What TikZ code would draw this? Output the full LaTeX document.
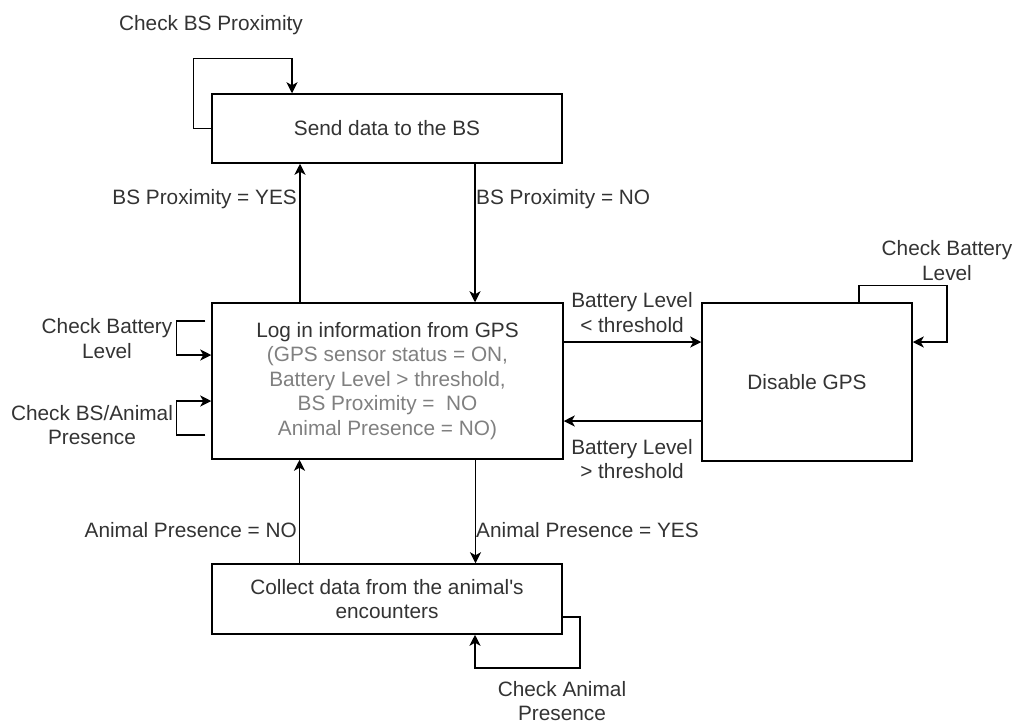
\documentclass[tikz,border=0pt]{standalone}
\usepackage{fontspec}
\setmainfont{Liberation Sans}
\usetikzlibrary{arrows.meta}
\definecolor{txt}{HTML}{333333}
\definecolor{subtxt}{HTML}{808080}
\begin{document}
\begin{tikzpicture}[x=1pt,y=-1pt,
  state/.style={draw=black, line width=1.5pt, fill=white, inner sep=0pt,
    text=txt, font=\fontsize{20.8}{24.5}\selectfont, align=center},
  lbl/.style={text=txt, font=\fontsize{20.8}{24.5}\selectfont, align=center, inner sep=0pt},
  flow/.style={line width=1.5pt, -{Stealth[length=11pt,width=11pt,inset=3pt]}},
]
\useasboundingbox (0,0) rectangle (1018,724);

% states
\node[state, minimum width=350pt, minimum height=69pt] (send) at (387,128.5) {Send data to the BS};
\node[state, minimum width=351pt, minimum height=156pt] (log) at (387.5,381)
  {Log in information from GPS\\
   \textcolor{subtxt}{(GPS sensor status = ON,}\\
   \textcolor{subtxt}{Battery Level > threshold,}\\
   \textcolor{subtxt}{BS Proximity = \ NO}\\
   \textcolor{subtxt}{Animal Presence = NO)}};
\node[state, minimum width=210pt, minimum height=158pt] (gpsoff) at (807,382) {Disable GPS};
\node[state, minimum width=350pt, minimum height=70pt] (collect) at (387,599)
  {Collect data from the animal\textquotesingle s\\encounters};

% transitions between states
\draw[flow] ([xshift=-87.5pt]log.north) -- ([xshift=-87.5pt]log.north |- send.south);
\draw[flow] ([xshift=88pt]send.south) -- ([xshift=88pt]send.south |- log.north);
\draw[flow] ([yshift=39pt]log.east) -- ([yshift=39pt]log.east -| gpsoff.west);
\draw[flow] ([yshift=-39pt]gpsoff.west) -- ([yshift=-39pt]gpsoff.west -| log.east);
\draw[flow] ([xshift=88pt]log.south) -- ([xshift=88pt]log.south |- collect.north);
\draw[flow] ([xshift=-87.5pt]collect.north) -- ([xshift=-87.5pt]collect.north |- log.south);

% self loops
\draw[flow] (send.west) -- ++(-18,0) |- ([xshift=-95pt,yshift=35pt]send.north) -- ([xshift=-95pt]send.north);
\draw[flow] ([xshift=-6pt,yshift=60pt]log.west) -- ++(-29,0) |- ([yshift=26pt]log.west);
\draw[flow] ([xshift=-6pt,yshift=-54pt]log.west) -- ++(-29,0) |- ([yshift=-20pt]log.west);
\draw[flow] ([xshift=52pt]gpsoff.north) -- ++(0,-17) -- ++(88,0) |- ([yshift=40pt]gpsoff.east);
\draw[flow] ([yshift=-18pt]collect.east) -- ++(17,0) -- ++(0,51) -| ([xshift=88pt]collect.south);

% labels
\node[lbl] (lsendloop) at (211,25) {Check BS Proximity};
\node[lbl, anchor=east] (lyes) at (297,199) {BS Proximity = YES};
\node[lbl, anchor=west] (lno) at (476,199) {BS Proximity = NO};
\node[lbl] (lbatt) at (107,338.5) {Check Battery\\Level};
\node[lbl] (lpres) at (92,425) {Check BS/Animal\\Presence};
\node[lbl] (llow) at (632,312.5) {Battery Level\\< threshold};
\node[lbl] (lhigh) at (632,459) {Battery Level\\> threshold};
\node[lbl] (lbattoff) at (947,260.5) {Check Battery\\Level};
\node[lbl, anchor=east] (lanimno) at (297,530) {Animal Presence = NO};
\node[lbl, anchor=west] (lanimyes) at (476,530) {Animal Presence = YES};
\node[lbl] (lanimloop) at (562,701) {Check Animal\\Presence};
\end{tikzpicture}
\end{document}
